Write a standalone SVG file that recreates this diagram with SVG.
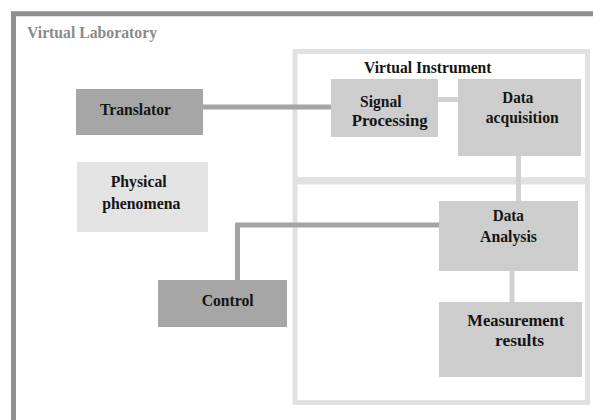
<svg xmlns="http://www.w3.org/2000/svg" width="593" height="420" viewBox="0 0 593 420">
<style>
text{font-family:"Liberation Serif","Times New Roman",serif;font-weight:bold;font-size:17px;fill:#141414}
.dark{fill:#a6a6a6}
.mid{fill:#cdcdcd}
.light{fill:#e3e3e3}
.frame{fill:none;stroke:#e1e1e1;stroke-width:5}
.cd{fill:none;stroke:#a4a4a4;stroke-width:5}
.cl{fill:none;stroke:#d2d2d2;stroke-width:5}
</style>
<rect width="593" height="420" fill="#fff"/>
<g id="virtual-laboratory">
<path d="M13.5,425 V13.8 H600" fill="none" stroke="#8f8f8f" stroke-width="5"/>
<text x="27" y="38" textLength="130" lengthAdjust="spacingAndGlyphs" style="fill:#8a8a8a">Virtual Laboratory</text>
</g>
<g id="virtual-instrument">
<rect class="frame" x="295" y="51.5" width="292.5" height="128"/>
<rect class="frame" x="295" y="182" width="292.5" height="220.5"/>
<text x="364" y="73.3" textLength="127.5" lengthAdjust="spacingAndGlyphs">Virtual Instrument</text>
</g>
<g id="connectors">
<path class="cd" d="M203,107 H331"/>
<path class="cl" d="M438,99.5 H458"/>
<path class="cl" d="M518.5,156 V201"/>
<path class="cd" d="M237.5,280 V225 H439"/>
<path class="cl" d="M512,271 V302"/>
</g>
<g id="translator">
<rect class="dark" x="76" y="89" width="127" height="46"/>
<text x="100" y="115" textLength="71" lengthAdjust="spacingAndGlyphs">Translator</text>
</g>
<g id="physical-phenomena">
<rect class="light" x="77" y="162" width="131" height="70"/>
<text x="110.7" y="186.7" textLength="56" lengthAdjust="spacingAndGlyphs">Physical</text>
<text x="102.3" y="209" textLength="78" lengthAdjust="spacingAndGlyphs">phenomena</text>
</g>
<g id="control">
<rect class="dark" x="158" y="280" width="129" height="47"/>
<text x="201.7" y="306" textLength="52" lengthAdjust="spacingAndGlyphs">Control</text>
</g>
<g id="signal-processing">
<rect class="mid" x="331" y="79" width="107" height="58"/>
<text x="360" y="106.7" textLength="41.5" lengthAdjust="spacingAndGlyphs">Signal</text>
<text x="351.7" y="125.5" textLength="76" lengthAdjust="spacingAndGlyphs">Processing</text>
</g>
<g id="data-acquisition">
<rect class="mid" x="458" y="79" width="123" height="77"/>
<text x="502.3" y="103.3" textLength="31" lengthAdjust="spacingAndGlyphs">Data</text>
<text x="485.7" y="123.3" textLength="73" lengthAdjust="spacingAndGlyphs">acquisition</text>
</g>
<g id="data-analysis">
<rect class="mid" x="439" y="201" width="139" height="70"/>
<text x="492.7" y="220.7" textLength="31.3" lengthAdjust="spacingAndGlyphs">Data</text>
<text x="480" y="241.5" textLength="57" lengthAdjust="spacingAndGlyphs">Analysis</text>
</g>
<g id="measurement-results">
<rect class="mid" x="439" y="302" width="143" height="75"/>
<text x="467.3" y="325.5" textLength="97" lengthAdjust="spacingAndGlyphs">Measurement</text>
<text x="495" y="345.5" textLength="49" lengthAdjust="spacingAndGlyphs">results</text>
</g>
</svg>
